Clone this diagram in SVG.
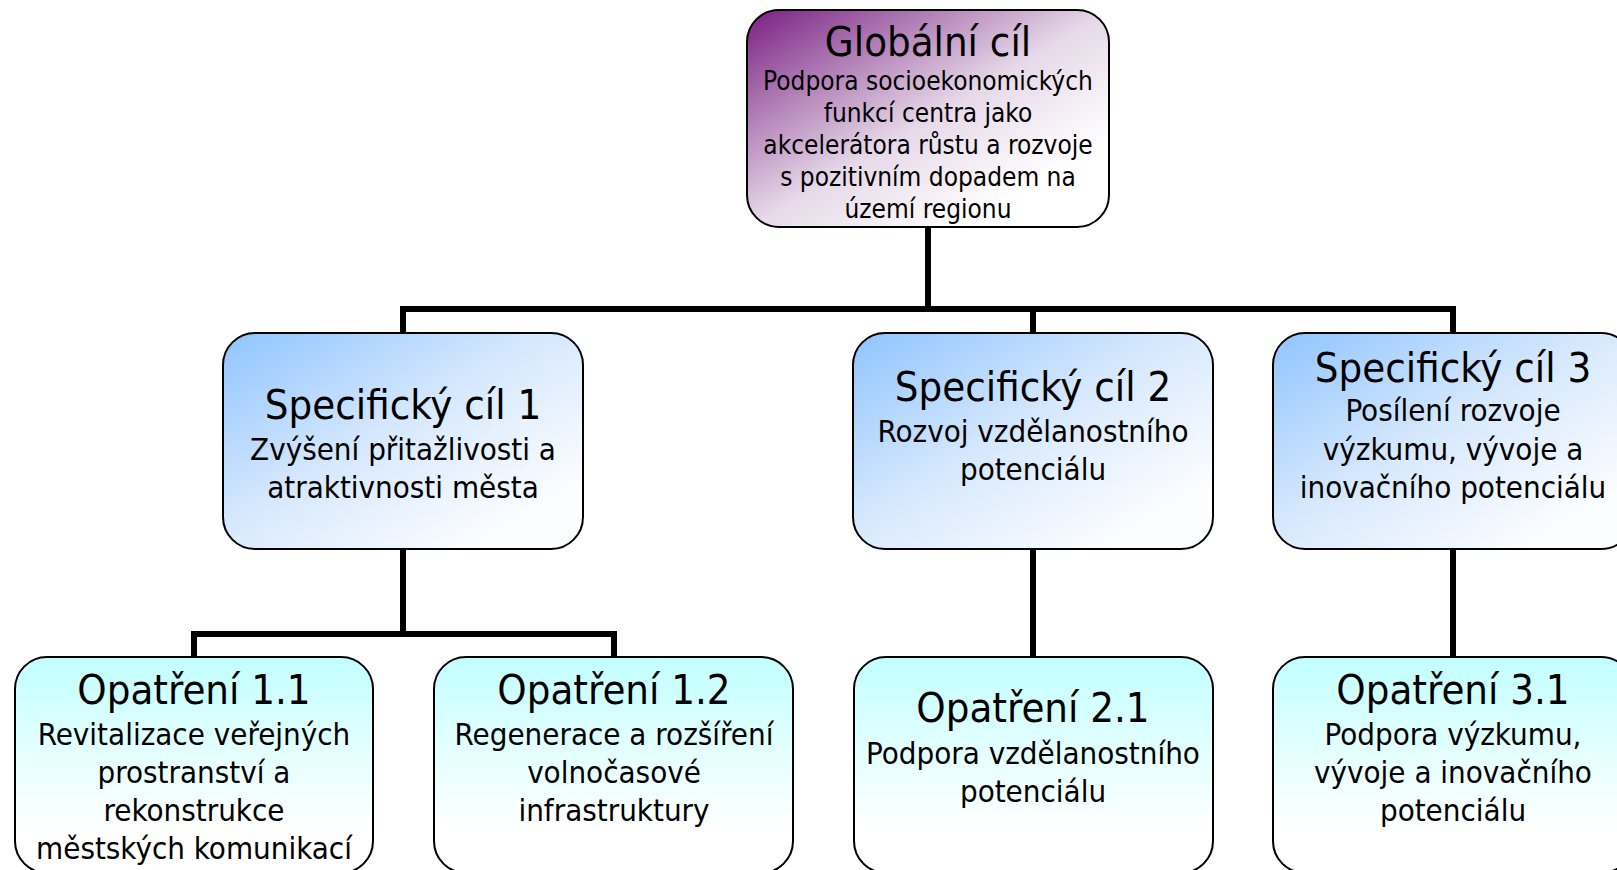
<svg xmlns="http://www.w3.org/2000/svg" width="1617" height="870" viewBox="0 0 1617 870">
<defs>
<linearGradient id="gPurple" x1="0" y1="0" x2="1" y2="1">
<stop offset="0" stop-color="#7a1e82"/>
<stop offset="0.2" stop-color="#a56aab"/>
<stop offset="0.5" stop-color="#e6d8e8"/>
<stop offset="0.8" stop-color="#ffffff"/>
</linearGradient>
<linearGradient id="gBlue" x1="0" y1="0" x2="1" y2="1">
<stop offset="0" stop-color="#8fc4ff"/>
<stop offset="0.45" stop-color="#d6e8fd"/>
<stop offset="0.85" stop-color="#fcfdff"/>
</linearGradient>
<linearGradient id="gCyan" x1="0" y1="0" x2="0" y2="1">
<stop offset="0" stop-color="#c2ffff"/>
<stop offset="0.8" stop-color="#ffffff"/>
</linearGradient>
</defs>
<style>
.box{stroke:#000;stroke-width:2}
.conn{fill:none;stroke:#000;stroke-width:6;stroke-linecap:butt;stroke-linejoin:miter}
text{font-family:"DejaVu Sans Condensed","DejaVu Sans",sans-serif;font-stretch:condensed;text-anchor:middle;fill:#000}
.t{font-size:41.5px}
.b{font-size:31px}
.g{font-size:26px}
</style>
<rect width="1617" height="870" fill="#fff"/>
<g id="connectors">
<path class="conn" d="M928 227 V309"/>
<path class="conn" d="M403 333 V309 H1453 V333"/>
<path class="conn" d="M1033 309 V333"/>
<path class="conn" d="M403 549 V634"/>
<path class="conn" d="M194 657 V634 H614 V657"/>
<path class="conn" d="M1033 549 V657"/>
<path class="conn" d="M1453 549 V657"/>
</g>
<g id="global">
<rect class="box" x="747" y="10" width="362" height="217" rx="32" fill="url(#gPurple)"/>
<text class="t" x="928" y="56">Globální cíl</text>
<text class="g" x="928" y="90">Podpora socioekonomických</text>
<text class="g" x="928" y="122">funkcí centra jako</text>
<text class="g" x="928" y="154">akcelerátora růstu a rozvoje</text>
<text class="g" x="928" y="186">s pozitivním dopadem na</text>
<text class="g" x="928" y="218">území regionu</text>
</g>
<g id="spec1">
<rect class="box" x="223" y="333" width="360" height="216" rx="32" fill="url(#gBlue)"/>
<text class="t" x="403" y="419">Specifický cíl 1</text>
<text class="b" x="403" y="460">Zvýšení přitažlivosti a</text>
<text class="b" x="403" y="498">atraktivnosti města</text>
</g>
<g id="spec2">
<rect class="box" x="853" y="333" width="360" height="216" rx="32" fill="url(#gBlue)"/>
<text class="t" x="1033" y="401">Specifický cíl 2</text>
<text class="b" x="1033" y="442">Rozvoj vzdělanostního</text>
<text class="b" x="1033" y="480">potenciálu</text>
</g>
<g id="spec3">
<rect class="box" x="1273" y="333" width="360" height="216" rx="32" fill="url(#gBlue)"/>
<text class="t" x="1453" y="382">Specifický cíl 3</text>
<text class="b" x="1453" y="421">Posílení rozvoje</text>
<text class="b" x="1453" y="460">výzkumu, vývoje a</text>
<text class="b" x="1453" y="498">inovačního potenciálu</text>
</g>
<g id="op11">
<rect class="box" x="15" y="657" width="358" height="216" rx="32" fill="url(#gCyan)"/>
<text class="t" x="194" y="704">Opatření 1.1</text>
<text class="b" x="194" y="745">Revitalizace veřejných</text>
<text class="b" x="194" y="783">prostranství a</text>
<text class="b" x="194" y="821">rekonstrukce</text>
<text class="b" x="194" y="859">městských komunikací</text>
</g>
<g id="op12">
<rect class="box" x="434" y="657" width="359" height="216" rx="32" fill="url(#gCyan)"/>
<text class="t" x="614" y="704">Opatření 1.2</text>
<text class="b" x="614" y="745">Regenerace a rozšíření</text>
<text class="b" x="614" y="783">volnočasové</text>
<text class="b" x="614" y="821">infrastruktury</text>
</g>
<g id="op21">
<rect class="box" x="854" y="657" width="359" height="216" rx="32" fill="url(#gCyan)"/>
<text class="t" x="1033" y="722">Opatření 2.1</text>
<text class="b" x="1033" y="764">Podpora vzdělanostního</text>
<text class="b" x="1033" y="802">potenciálu</text>
</g>
<g id="op31">
<rect class="box" x="1273" y="657" width="360" height="216" rx="32" fill="url(#gCyan)"/>
<text class="t" x="1453" y="704">Opatření 3.1</text>
<text class="b" x="1453" y="745">Podpora výzkumu,</text>
<text class="b" x="1453" y="783">vývoje a inovačního</text>
<text class="b" x="1453" y="821">potenciálu</text>
</g>
</svg>
